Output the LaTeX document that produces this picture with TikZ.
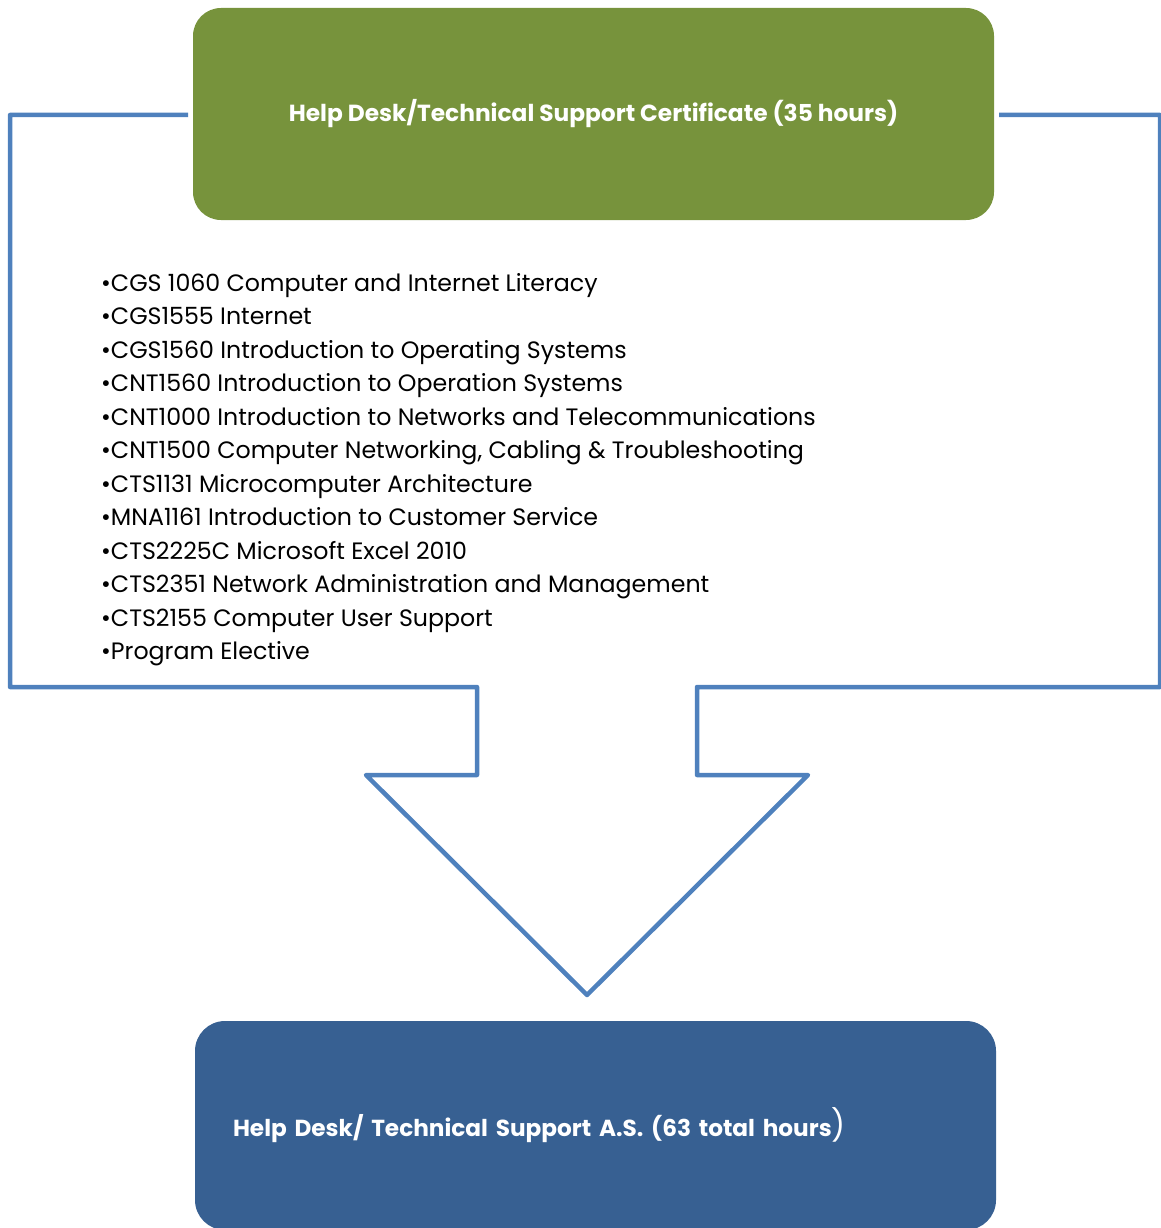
\documentclass[tikz,border=0pt]{standalone}
\usepackage{fontspec}
\setmainfont{Poppins}
\definecolor{greenbox}{HTML}{77933C}
\definecolor{bluebox}{HTML}{376092}
\definecolor{arrowline}{HTML}{4F81BD}
\tikzset{
  x=1pt,y=-1pt,
  titlebox/.style={fill=greenbox,draw=none,rounded corners=28pt,minimum width=801pt,minimum height=212pt,inner sep=0pt,text=white,font=\fontsize{23.3}{26}\selectfont\bfseries},
  resultbox/.style={fill=bluebox,draw=none,rounded corners=30pt,minimum width=801pt,minimum height=209pt,inner xsep=38pt,inner ysep=0pt,text width=725pt,align=left,text=white,font=\fontsize{23.2}{26}\selectfont\bfseries},
  courselist/.style={anchor=north west,align=left,inner sep=0pt,font=\fontsize{23.7}{33.5}\selectfont},
  calloutline/.style={draw=arrowline,line width=4.5pt,line join=round}
}
\begin{document}
\begin{tikzpicture}
\useasboundingbox (0,0) rectangle (1161,1228);
\clip (0,0) rectangle (1161,1228);
% callout arrow shape
\coordinate (tl) at (188,115);
\coordinate (tr) at (999,115);
\draw[calloutline] (tl) -- (10,115) -- (10,687) -- (477,687) -- (477,775) -- (366,775) -- (587,995) -- (808,775) -- (697,775) -- (697,687) -- (1160,687) -- (1160,115) -- (tr);
% title box
\node[titlebox] (title) at (593.5,114) {Help Desk/Technical Support Certificate (35 hours)};
% course list
\node[courselist] (list) at (101,273) {%
•CGS 1060 Computer and Internet Literacy\\
•CGS1555 Internet\\
•CGS1560 Introduction to Operating Systems\\
•CNT1560 Introduction to Operation Systems\\
•CNT1000 Introduction to Networks and Telecommunications\\
•CNT1500 Computer Networking, Cabling \& Troubleshooting\\
•CTS1131 Microcomputer Architecture\\
•MNA1161 Introduction to Customer Service\\
•CTS2225C Microsoft Excel 2010\\
•CTS2351 Network Administration and Management\\
•CTS2155 Computer User Support\\
•Program Elective};
% result box
\node[resultbox] (result) at (595.5,1125.5) {Help Desk/ Technical Support A.S. (63 total hours{\fontsize{31}{26}\selectfont\mdseries )}};
\end{tikzpicture}
\end{document}
